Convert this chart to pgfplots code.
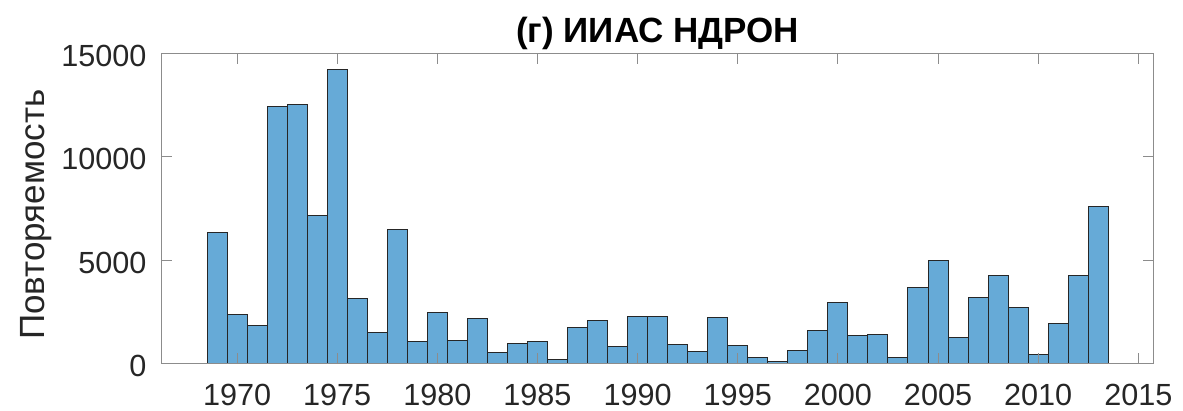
\documentclass[border=0pt]{standalone}
\usepackage{fontspec}
\setmainfont{Liberation Sans}
\usepackage{pgfplots}
\pgfplotsset{compat=1.18}
\usetikzlibrary{calc}

\definecolor{barblue}{RGB}{102,170,215}
\definecolor{framegray}{RGB}{140,140,140}
\definecolor{labelgray}{RGB}{38,38,38}

% yearly counts, one bar per year
\pgfplotstableread{
year count
1969 6330
1970 2374
1971 1825
1972 12450
1973 12530
1974 7153
1975 14242
1976 3133
1977 1486
1978 6475
1979 1050
1980 2438
1981 1082
1982 2180
1983 517
1984 937
1985 1033
1986 194
1987 1744
1988 2051
1989 824
1990 2261
1991 2277
1992 904
1993 565
1994 2196
1995 872
1996 291
1997 97
1998 614
1999 1599
2000 2939
2001 1324
2002 1405
2003 258
2004 3649
2005 4973
2006 1227
2007 3181
2008 4247
2009 2697
2010 436
2011 1938
2012 4247
2013 7589
}\counts

\begin{document}
\begin{tikzpicture}
\begin{axis}[
  scale only axis,
  width=495.65pt, height=154.8pt,
  xmin=1966.25, xmax=2015.75,
  ymin=0, ymax=15000,
  xtick={1970,1975,...,2015},
  ytick={0,5000,10000,15000},
  scaled y ticks=false,
  /pgf/number format/1000 sep={},
  /pgf/number format/assume math mode=true,
  tick align=inside,
  tick pos=both,
  major tick length=5pt,
  axis on top,
  axis line style={framegray, line width=0.5pt},
  tick style={framegray, line width=0.5pt},
  ticklabel style={font=\fontsize{15.3}{18}\selectfont, text=labelgray, inner sep=0pt},
  xticklabel style={yshift=-10.3pt},
  yticklabel style={xshift=-7.6pt, yshift=-1.25pt},
  every axis title shift=0pt,
  title={(г) ИИАС НДРОН},
  title style={at={(rel axis cs:0.5,1)}, anchor=base, yshift=5.5pt,
    inner sep=0pt, font=\fontsize{17.5}{20}\bfseries\selectfont},
  ylabel={Повторяемость},
  ylabel style={at={($(rel axis cs:0,0.5)+(-71pt,-3pt)$)}, anchor=north,
    inner sep=0pt, text=labelgray, font=\fontsize{17.5}{20}\selectfont},
]
\addplot[ybar, bar width=1, bar shift=0pt, fill=barblue,
  draw=black!85, line width=0.5pt] table[x=year, y=count] {\counts};
\coordinate (bl) at (rel axis cs:0,0);
\end{axis}
\pgfresetboundingbox
\path ($(bl)+(-81pt,-23.85pt)$) rectangle ++(591.5pt,205.5pt);
\end{tikzpicture}
\end{document}
